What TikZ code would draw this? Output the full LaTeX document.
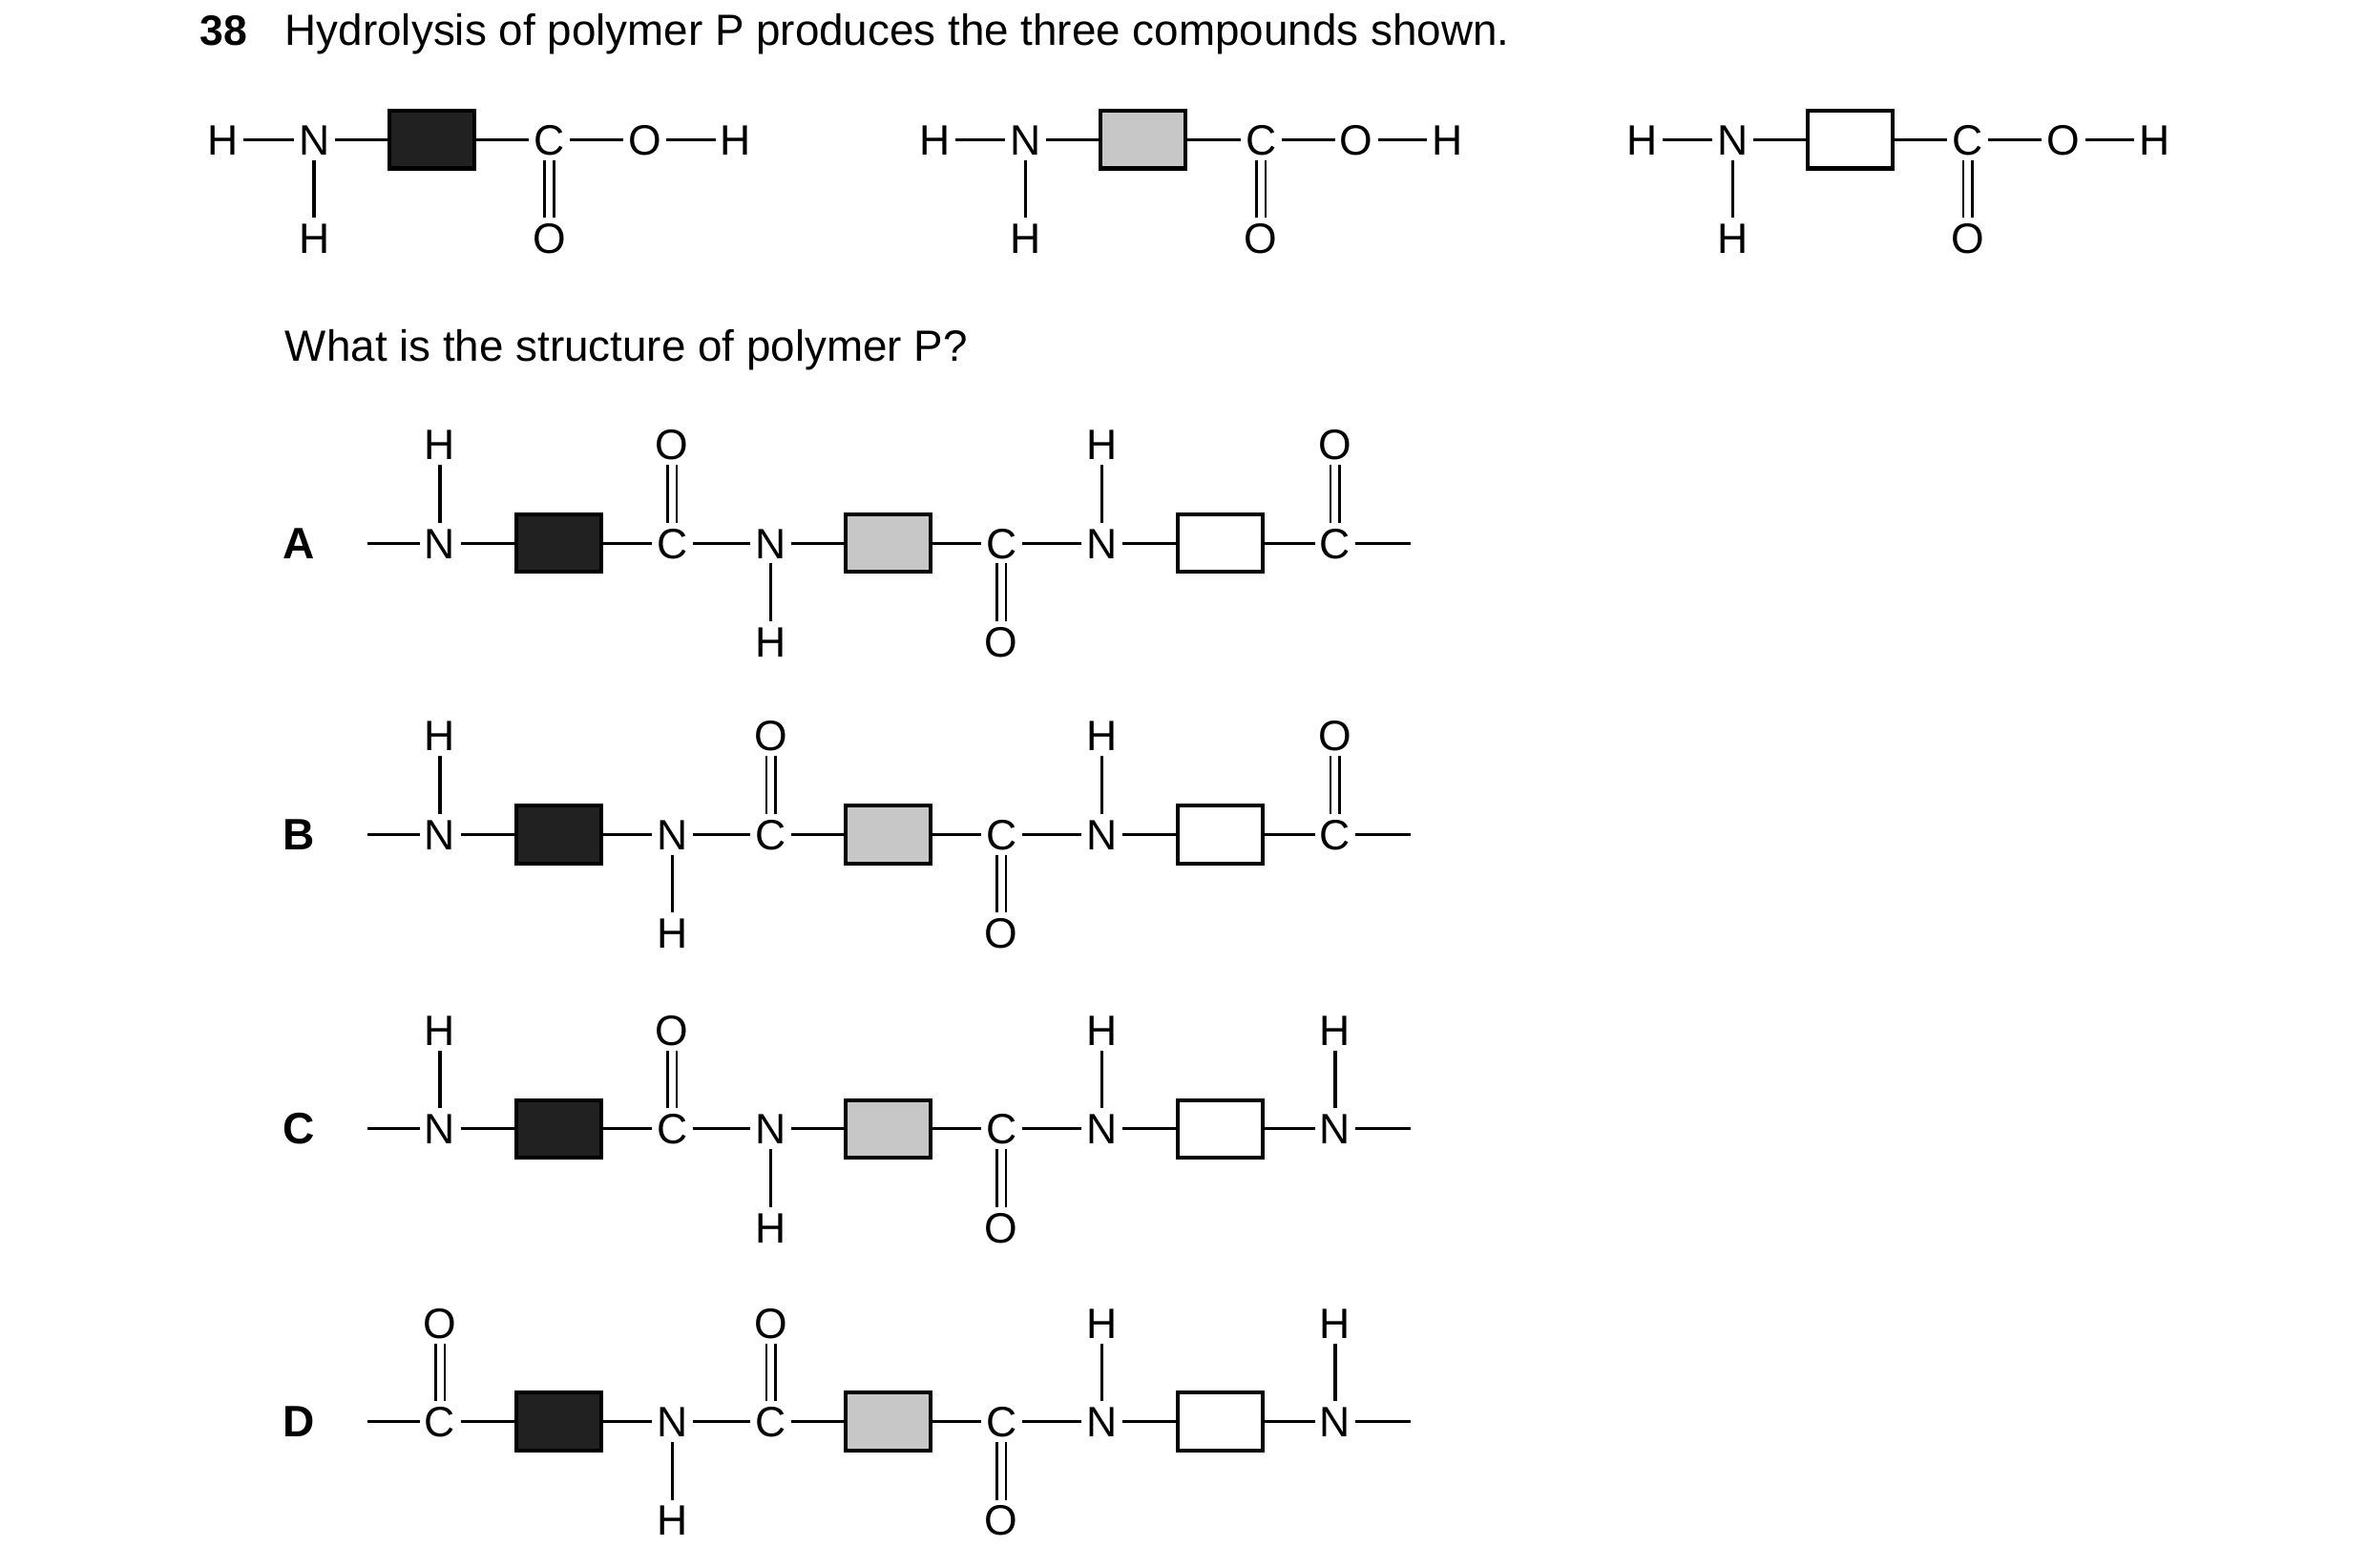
\documentclass[tikz,border=0pt]{standalone}
\usepackage{fontspec}
\setmainfont{Liberation Sans}
\begin{document}
\begin{tikzpicture}[x=0.5pt,y=-0.5pt,line width=1pt,
 atom/.style={inner sep=1.2pt,font=\fontsize{14}{16}\selectfont,text height=10pt,text depth=0pt},
 dbl/.style={double,double distance=2.2pt,line width=0.8pt},
 box/.style={draw,line width=1.3pt,minimum width=28pt,minimum height=19pt,inner sep=0pt},
 blk/.style={box,fill=black!87},
 gry/.style={box,fill=black!22},
 wht/.style={box,fill=white},
 txt/.style={anchor=base west,inner sep=0pt,font=\fontsize{14.4}{16}\selectfont}]
\useasboundingbox (0,0) rectangle (1560,1033);
\newcommand\at[5]{%
 \node[atom] (#1) at (#2,#3) {#4};
 \if#4N\node[atom] (#1s) at (#2,#3+#5*65) {H};\draw (#1)--(#1s);
 \else\node[atom] (#1s) at (#2,#3+#5*65) {O};\draw[dbl] (#1)--(#1s);\fi}
\node[txt,font=\fontsize{14}{16}\selectfont\bfseries] (num) at (131,30) {38};
\node[txt] (title) at (187,30) {Hydrolysis of polymer P produces the three compounds shown.};
\node[txt] (q) at (187,238) {What is the structure of polymer P?};
% monomers
\foreach \i/\dx/\st in {1/0/blk,2/469/gry,3/935/wht}{
 \node[atom] (h\i) at (147+\dx,92) {H};
 \at{n\i}{207+\dx}{92}{N}{1}
 \node[\st] (m\i) at (284.5+\dx,92) {};
 \at{c\i}{362+\dx}{92}{C}{1}
 \node[atom] (o\i) at (425+\dx,92) {O};
 \node[atom] (hh\i) at (485+\dx,92) {H};
 \draw (h\i)--(n\i) (n\i)--(m\i) (m\i)--(c\i) (c\i)--(o\i) (o\i)--(hh\i);
}
% options
\newcommand\row[9]{%
 \node[anchor=base,inner sep=0pt,font=\fontsize{14.5}{16}\selectfont\bfseries] (lab#1) at (197,#2+10) {#1};
 \coordinate (L#1) at (242,#2);
 \coordinate (R#1) at (930,#2);
 \at{#1a}{290}{#2}{#3}{-1}
 \node[blk] (#1x) at (368.5,#2) {};
 \at{#1b}{443}{#2}{#4}{#5}
 \at{#1c}{508}{#2}{#6}{#7}
 \node[gry] (#1y) at (585.5,#2) {};
 \at{#1d}{660}{#2}{C}{1}
 \at{#1e}{726}{#2}{N}{-1}
 \node[wht] (#1z) at (804,#2) {};
 \at{#1f}{880}{#2}{#8}{-1}
 \draw (L#1)--(#1a) (#1a)--(#1x) (#1x)--(#1b) (#1b)--(#1c) (#1c)--(#1y) (#1y)--(#1d)
  (#1d)--(#1e) (#1e)--(#1z) (#1z)--(#1f) (#1f)--(R#1);}
\row{A}{358}{N}{C}{-1}{N}{1}{C}{}
\row{B}{550}{N}{N}{1}{C}{-1}{C}{}
\row{C}{744}{N}{C}{-1}{N}{1}{N}{}
\row{D}{937}{C}{N}{1}{C}{-1}{N}{}
\end{tikzpicture}
\end{document}
